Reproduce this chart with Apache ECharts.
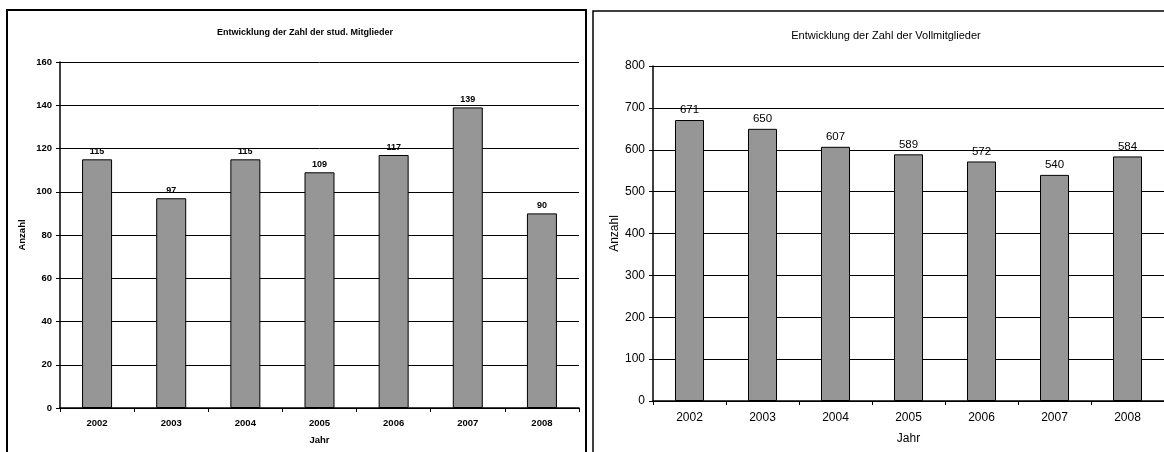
<!DOCTYPE html>
<html>
<head>
<meta charset="utf-8">
<script src="https://cdn.jsdelivr.net/npm/echarts@6/dist/echarts.min.js"></script>
<style>
html,body{margin:0;padding:0;background:#fff;}
#c{width:1164px;height:452px;}
</style>
</head>
<body>
<div id="c"></div>
<script>
const years = ['2002','2003','2004','2005','2006','2007','2008'];
const studValues = [115, 97, 115, 109, 117, 139, 90];
const vollValues = [671, 650, 607, 589, 572, 540, 584];
const titleStud = 'Entwicklung der Zahl der stud. Mitglieder';
const titleVoll = 'Entwicklung der Zahl der Vollmitglieder';
const yName = 'Anzahl';
const xName = 'Jahr';

const FONT = "'Liberation Sans', Arial, sans-serif";
const chart = echarts.init(document.getElementById('c'), null, {renderer:'canvas'});

function xAxisCfg(gi, size, weight, gap, labelMargin){
  return {
    type:'category', gridIndex:gi, data:years,
    name:xName, nameLocation:'middle', nameGap:gap,
    nameTextStyle:{color:'#000', fontSize:size, fontWeight:weight, fontFamily:FONT},
    axisLine:{lineStyle:{color:'#000', width:1.5}},
    axisTick:{show:true, inside:false, length:4, lineStyle:{color:'#000'}},
    axisLabel:{color:'#000', fontSize:size, fontWeight:weight, fontFamily:FONT, margin:labelMargin},
    splitLine:{show:false}
  };
}
function yAxisCfg(gi, max, interval, size, weight, gap){
  return {
    type:'value', gridIndex:gi, min:0, max:max, interval:interval,
    name:yName, nameLocation:'middle', nameGap:gap, nameRotate:90,
    nameTextStyle:{color:'#000', fontSize:size, fontWeight:weight, fontFamily:FONT},
    axisLine:{show:true, lineStyle:{color:'#000', width:1.5}},
    axisTick:{show:true, inside:false, length:4, lineStyle:{color:'#000'}},
    axisLabel:{color:'#000', fontSize:size, fontWeight:weight, fontFamily:FONT, margin:8},
    splitLine:{show:true, lineStyle:{color:'#000', width:1}}
  };
}

chart.setOption({
  animation:false,
  backgroundColor:'#fff',
  title:[
    {text:titleStud, left:300, top:23, textAlign:'center',
     textStyle:{fontSize:9, fontWeight:'bold', color:'#000', fontFamily:FONT}},
    {text:titleVoll, left:881, top:25, textAlign:'center',
     textStyle:{fontSize:11, fontWeight:'normal', color:'#000', fontFamily:FONT}}
  ],
  grid:[
    {left:60, top:62, width:519, height:346},
    {left:653, top:66, width:513, height:335}
  ],
  xAxis:[
    xAxisCfg(0, 9.5, 'bold', 27, 10),
    xAxisCfg(1, 12, 'normal', 32, 11)
  ],
  yAxis:[
    yAxisCfg(0, 160, 20, 9.5, 'bold', 33),
    yAxisCfg(1, 800, 100, 12, 'normal', 31)
  ],
  series:[
    {type:'bar', xAxisIndex:0, yAxisIndex:0, data:studValues, barWidth:30,
     itemStyle:{color:'#969696', borderColor:'#000', borderWidth:1},
     label:{show:true, position:'top', distance:3, color:'#000', fontSize:9, fontWeight:'bold', fontFamily:FONT}},
    {type:'bar', xAxisIndex:1, yAxisIndex:1, data:vollValues, barWidth:29,
     itemStyle:{color:'#969696', borderColor:'#000', borderWidth:1},
     label:{show:true, position:'top', distance:4, color:'#000', fontSize:11.5, fontWeight:'normal', fontFamily:FONT}}
  ],
  graphic:[
    {type:'rect', shape:{x:7, y:10, width:579, height:460}, style:{fill:null, stroke:'#000', lineWidth:2}, silent:true, z:-1},
    {type:'rect', shape:{x:593, y:11, width:600, height:460}, style:{fill:null, stroke:'#000', lineWidth:1.5}, silent:true, z:-1}
  ]
});
</script>
</body>
</html>
